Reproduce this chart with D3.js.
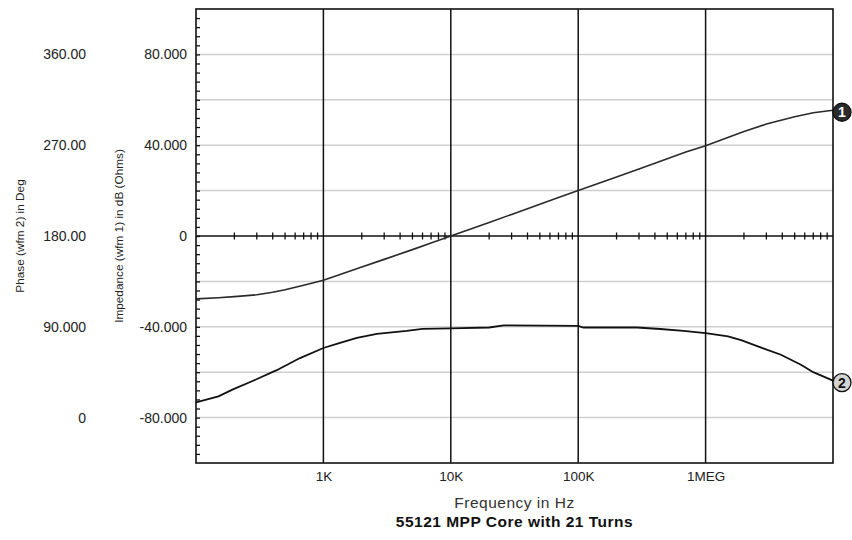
<!DOCTYPE html>
<html>
 <head>
  <meta charset="utf-8" />
  <title>55121 MPP Core with 21 Turns</title>
  <style>
   body, html {
    margin: 0;
    padding: 0;
    background: #fff;
    overflow: hidden;
   }
   svg text {
    font-family: "Liberation Sans", Arial, Helvetica, sans-serif;
    fill: #222;
   }
  </style>
  <script src="https://cdnjs.cloudflare.com/ajax/libs/d3/7.9.0/d3.min.js"></script>
 </head>
 <body>
  <svg width="852" height="540"></svg>
  <script>
   // wfm 1 : impedance in dB (Ohms)
   const impFreq = [100, 150, 200, 300, 400, 500, 700, 1e3, 2e3, 3e3, 5e3, 7e3, 1e4, 2e4, 3e4, 5e4, 7e4,
                    1e5, 2e5, 3e5, 5e5, 7e5, 1e6, 2e6, 3e6, 5e6, 7e6, 1e7];
   const impDb = [-27.7, -27.2, -26.7, -25.9, -24.8, -23.7, -21.7, -19.5, -13.7, -10.3, -6, -3.1, 0, 6, 9.5, 14, 17,
                  20, 26, 29.5, 34, 37, 39.8, 46, 49.3, 52.5, 54.3, 55.4];

   // wfm 2 : phase in degrees
   const phaseFreq = [100, 150, 195, 275, 430, 655, 1e3, 1350, 1830, 2630, 4500, 6000, 1e4, 2e4, 2.6e4,
                      1e5, 1.1e5, 2.9e5, 4.4e5, 6.7e5, 1e6, 1.5e6, 1.9e6, 2.8e6, 3.9e6, 5.6e6, 7e6, 1e7];
   const phaseDeg = [15, 21, 28, 36, 47, 59, 69, 74, 79, 83, 86, 88, 88.4, 89.3, 91.4,
                     91, 89.3, 89.3, 87.8, 86, 83.7, 80.6, 76.7, 68.9, 62.3, 52.4, 45, 36.7];

   const impTicks = [80, 40, 0, -40, -80];
   const impTickLabels = ["80.000", "40.000", "0", "-40.000", "-80.000"];
   const phaseTicks = [360, 270, 180, 90, 0];
   const phaseTickLabels = ["360.00", "270.00", "180.00", "90.000", "0"];
   const freqTicks = [1e3, 1e4, 1e5, 1e6];
   const freqTickLabels = ["1K", "10K", "100K", "1MEG"];

   const plotLeft = 196, plotRight = 833, plotTop = 9, plotBottom = 463;

   const svg = d3.select("svg");

   const x = d3.scaleLog().domain([100, 1e7]).range([plotLeft, plotRight]);
   const yImp = d3.scaleLinear().domain([-100, 100]).range([plotBottom, plotTop]);
   const yPh = d3.scaleLinear().domain([-45, 405]).range([plotBottom, plotTop]);

   // gray horizontal grid every 20 dB
   svg.append("g")
    .selectAll("line")
    .data(d3.range(-80, 100, 20).filter(v => v !== 0))
    .enter().append("line")
    .attr("x1", plotLeft).attr("x2", plotRight)
    .attr("y1", d => yImp(d)).attr("y2", d => yImp(d))
    .attr("stroke", "#cfcfcf")
    .attr("stroke-width", 1.5);

   // black decade lines
   svg.append("g")
    .selectAll("line")
    .data(freqTicks)
    .enter().append("line")
    .attr("x1", d => x(d)).attr("x2", d => x(d))
    .attr("y1", plotTop).attr("y2", plotBottom)
    .attr("stroke", "#111")
    .attr("stroke-width", 1.5);

   // minor ticks on the left edge
   svg.append("g")
    .attr("transform", `translate(${plotLeft},0)`)
    .call(d3.axisRight(yImp).tickValues(d3.range(-96, 100, 4)).tickSize(4).tickFormat(""))
    .call(g => g.select(".domain").remove())
    .call(g => g.selectAll("line").attr("stroke", "#111").attr("stroke-width", 1.3));

   // zero line with log minor ticks
   const y0 = yImp(0);
   svg.append("line")
    .attr("x1", plotLeft).attr("x2", plotRight)
    .attr("y1", y0).attr("y2", y0)
    .attr("stroke", "#111")
    .attr("stroke-width", 1.5);

   const minor = [];
   [100, 1e3, 1e4, 1e5, 1e6].forEach(dec => {
    for(let m = 2; m <= 9; m++)
     minor.push(dec * m);
   });
   svg.append("g")
    .selectAll("line")
    .data(minor)
    .enter().append("line")
    .attr("x1", d => x(d)).attr("x2", d => x(d))
    .attr("y1", y0 - 3.5).attr("y2", y0 + 3.5)
    .attr("stroke", "#111")
    .attr("stroke-width", 1.3);

   // curves
   const impLine = d3.line()
    .x((d, i) => x(impFreq[i]))
    .y(d => yImp(d));
   const phaseLine = d3.line()
    .x((d, i) => x(phaseFreq[i]))
    .y(d => yPh(d));

   svg.append("path")
    .datum(impDb)
    .attr("d", impLine)
    .attr("fill", "none")
    .attr("stroke", "#2a2a2a")
    .attr("stroke-width", 1.6);

   svg.append("path")
    .datum(phaseDeg)
    .attr("d", phaseLine)
    .attr("fill", "none")
    .attr("stroke", "#111")
    .attr("stroke-width", 1.8);

   // plot frame
   svg.append("rect")
    .attr("x", plotLeft).attr("y", plotTop)
    .attr("width", plotRight - plotLeft).attr("height", plotBottom - plotTop)
    .attr("fill", "none")
    .attr("stroke", "#111")
    .attr("stroke-width", 1.6);

   // waveform markers
   const markers = [
    {label: "1", y: yImp(impDb[impDb.length - 1]), fill: "#2b2b2b", color: "#fff"},
    {label: "2", y: yPh(phaseDeg[phaseDeg.length - 1]), fill: "#d4d4d4", color: "#111"}
   ];
   const mk = svg.append("g")
    .selectAll("g")
    .data(markers)
    .enter().append("g")
    .attr("transform", d => `translate(${plotRight + 9},${d.y + 2})`);
   mk.append("circle")
    .attr("r", 9)
    .attr("fill", d => d.fill)
    .attr("stroke", "#111")
    .attr("stroke-width", 1.3);
   mk.append("text")
    .attr("text-anchor", "middle")
    .attr("dy", "0.36em")
    .style("font-size", "14px")
    .style("font-weight", "bold")
    .style("fill", d => d.color)
    .text(d => d.label);

   // left value labels
   svg.append("g")
    .attr("transform", "translate(187,0)")
    .call(d3.axisLeft(yImp).tickValues(impTicks).tickSize(0).tickPadding(0)
     .tickFormat((d, i) => impTickLabels[i]))
    .call(g => g.select(".domain").remove())
    .call(g => g.selectAll("text").style("font-size", "14px").style("font-family", null));

   svg.append("g")
    .attr("transform", "translate(86,0)")
    .call(d3.axisLeft(yPh).tickValues(phaseTicks).tickSize(0).tickPadding(0)
     .tickFormat((d, i) => phaseTickLabels[i]))
    .call(g => g.select(".domain").remove())
    .call(g => g.selectAll("text").style("font-size", "14px").style("font-family", null));

   // frequency labels
   svg.append("g")
    .attr("transform", `translate(0,${plotBottom})`)
    .call(d3.axisBottom(x).tickValues(freqTicks).tickSize(0).tickPadding(8)
     .tickFormat((d, i) => freqTickLabels[i]))
    .call(g => g.select(".domain").remove())
    .call(g => g.selectAll("text").style("font-size", "13.5px").style("font-family", null));

   // axis titles
   svg.append("text")
    .attr("transform", `translate(24,${(plotTop + plotBottom) / 2}) rotate(-90)`)
    .attr("text-anchor", "middle")
    .style("font-size", "11.8px")
    .text("Phase (wfm 2) in Deg");

   svg.append("text")
    .attr("transform", `translate(123,${(plotTop + plotBottom) / 2}) rotate(-90)`)
    .attr("text-anchor", "middle")
    .style("font-size", "11.8px")
    .text("Impedance (wfm 1) in dB (Ohms)");

   svg.append("text")
    .attr("x", (plotLeft + plotRight) / 2)
    .attr("y", 508)
    .attr("text-anchor", "middle")
    .style("font-size", "15.5px")
    .style("letter-spacing", "0.5px")
    .style("fill", "#333")
    .text("Frequency in Hz");

   svg.append("text")
    .attr("x", (plotLeft + plotRight) / 2)
    .attr("y", 527)
    .attr("text-anchor", "middle")
    .style("font-size", "15.5px")
    .style("letter-spacing", "0.5px")
    .style("font-weight", "bold")
    .style("fill", "#111")
    .text("55121 MPP Core with 21 Turns");
  </script>
 </body>
</html>
